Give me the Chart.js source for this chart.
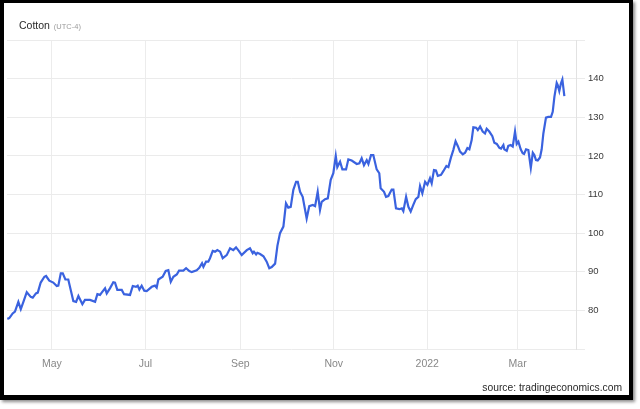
<!DOCTYPE html>
<html>
<head>
<meta charset="utf-8">
<script src="https://cdn.jsdelivr.net/npm/chart.js@4.4.1/dist/chart.umd.min.js"></script>
<style>
  html, body { margin: 0; padding: 0; background: #fff; }
  body { width: 640px; height: 409px; position: relative; overflow: hidden; font-family: "Liberation Sans", Arial, sans-serif; }
  #frame { position: absolute; left: 0; top: 0; width: 633px; height: 400px; box-sizing: border-box;
           border-style: solid; border-color: #000; border-width: 3px 4px 5px 4px; background: #fff;
           box-shadow: 2px 2px 3px rgba(0,0,0,0.45); }
  #chart { position: absolute; left: 0; top: 0; }
  #title { position: absolute; left: 19px; top: 19px; font-size: 10.5px; line-height: 12px; color: #2a2a2a; white-space: nowrap; }
  #title span { font-size: 7.5px; color: #9a9a9a; margin-left: 1px; }
  #source { position: absolute; right: 18px; top: 382px; font-size: 10.3px; line-height: 12px; color: #2a2a2a; white-space: nowrap; }
</style>
</head>
<body>
<div id="frame"></div>
<canvas id="chart" width="640" height="409"></canvas>
<div id="title">Cotton <span>(UTC-4)</span></div>
<div id="source">source: tradingeconomics.com</div>
<script>
// Days since 2021-04-01
const days = [0.9,2.2,4.4,5.9,8.1,9.7,11.4,13.6,16.2,17.5,19.6,20.8,22.7,25.1,26.2,28.3,30.9,33.2,34.2,35.8,
  37.1,38.8,40.7,42.3,44.0,45.8,47.3,49.9,51.6,54.9,58.2,59.7,61.4,62.5,64.7,65.8,67.9,70.1,71.2,72.7,
  75.6,77.1,81.0,82.8,84.9,86.0,87.1,88.6,90.3,91.9,95.2,97.3,98.4,99.5,102.3,104.3,106.0,107.6,109.3,111.5,
  113.0,115.8,117.6,119.7,121.3,124.5,126.2,128.0,128.9,130.6,132.1,133.2,135.0,136.5,138.0,139.8,141.5,144.1,146.3,148.4,
  150.2,152.0,153.9,157.2,159.3,161.1,161.9,163.3,164.1,165.9,168.1,170.2,171.9,173.5,175.7,177.2,178.9,181.1,182.8,184.3,
  185.9,187.6,189.4,190.5,192.0,193.7,196.3,198.0,200.3,201.8,203.5,205.0,206.1,208.3,210.1,212.0,213.7,215.3,216.3,218.1,
  219.6,222.0,223.5,225.7,229.0,230.7,232.2,233.7,235.5,236.6,238.3,239.8,242.0,243.7,244.6,246.8,248.1,249.6,251.8,252.9,
  254.6,256.8,258.4,259.4,261.2,262.7,264.2,265.9,267.5,269.2,270.3,271.8,273.6,275.1,276.8,277.9,279.4,280.7,281.9,284.0,
  285.6,287.5,288.8,290.5,292.0,293.5,295.0,296.4,298.2,299.7,301.2,302.5,304.0,305.1,306.9,308.0,309.5,311.2,312.7,313.8,
  315.5,317.5,318.8,320.4,322.1,323.2,324.7,325.3,326.9,327.9,329.5,330.8,332.3,333.4,334.5,336.0,337.3,338.2,339.5,341.0,
  342.6,343.9,344.9,346.0,347.1,348.6,349.7,350.8,352.5,354.0,355.8,356.9,358.0,359.5,360.2,361.2,362.3,363.2,364.5];
// Cotton price (USd/lb)
const prices = [77.8,78.0,79.2,79.7,82.2,80.3,82.2,84.7,83.5,83.3,84.4,84.6,87.2,88.7,88.9,87.7,87.2,86.3,86.4,89.6,
  89.6,88.0,88.0,85.3,82.4,82.2,83.7,81.6,82.7,82.7,82.2,84.2,84.0,84.6,85.7,84.4,85.7,87.3,87.2,85.3,
  85.3,84.2,84.0,86.3,86.1,86.4,85.4,86.4,85.1,85.0,86.1,86.4,85.9,88.0,88.7,90.2,90.4,87.4,88.7,89.3,
  90.3,90.3,90.9,90.2,89.9,90.4,91.0,92.2,91.3,92.6,92.6,93.5,95.4,95.2,95.6,95.2,93.5,94.3,96.1,95.6,
  96.3,95.4,94.3,95.6,96.1,94.8,95.2,94.5,94.9,94.6,94.0,92.6,90.9,91.2,92.1,96.7,100.0,101.7,107.7,106.6,
  106.8,111.2,113.3,113.3,110.7,109.4,103.8,107.0,107.3,107.0,110.7,106.0,108.1,108.8,109.0,113.8,115.5,120.0,117.1,118.5,
  116.5,116.5,119.1,118.8,117.9,118.1,119.4,117.6,118.9,117.9,120.2,120.2,116.5,115.5,111.6,110.7,109.4,109.6,111.3,111.3,
  106.4,106.2,106.4,105.7,109.4,106.8,105.6,107.3,108.8,109.4,112.2,110.3,113.3,112.5,114.2,112.9,116.3,116.2,114.8,115.1,
  116.1,117.4,117.1,119.6,121.5,123.8,122.5,121.1,120.4,120.8,122.0,121.7,124.1,127.4,127.3,126.7,127.6,126.3,125.8,127.0,
  126.3,125.1,123.4,123.1,122.1,121.9,122.8,121.7,121.3,122.6,122.8,122.4,126.3,123.1,123.7,121.7,120.7,120.5,121.7,121.5,
  116.9,120.8,120.2,118.9,118.8,119.6,121.7,125.8,129.9,130.1,130.1,131.4,135.3,138.9,138.3,136.8,138.8,139.8,135.5];
// Month ticks (days since 2021-04-01) and their labels
const tickDays = [30, 91, 153, 214, 275, 334];
const tickLabels = ['May', 'Jul', 'Sep', 'Nov', '2022', 'Mar'];
const yTicks = [70, 80, 90, 100, 110, 120, 130, 140, 150];

const points = days.map((d, i) => ({ x: d, y: prices[i] }));

new Chart(document.getElementById('chart'), {
  type: 'line',
  data: {
    datasets: [{
      data: points,
      borderColor: '#3a62df',
      borderWidth: 2.2,
      pointRadius: 0,
      tension: 0,
      fill: false
    }]
  },
  options: {
    responsive: false,
    animation: false,
    layout: { padding: { top: 40, left: 7, right: 0, bottom: 0 } },
    plugins: { legend: { display: false }, tooltip: { enabled: false } },
    scales: {
      x: {
        type: 'linear',
        min: 0.7,
        max: 372.1,
        afterBuildTicks: (axis) => { axis.ticks = tickDays.map(v => ({ value: v })); },
        afterFit: (scale) => { scale.height = 60; },
        ticks: {
          autoSkip: false,
          maxRotation: 0,
          padding: 9,
          color: '#888',
          font: { family: '"Liberation Sans", Arial, sans-serif', size: 10.5 },
          callback: (v) => { const i = tickDays.indexOf(v); return i >= 0 ? tickLabels[i] : ''; }
        },
        grid: { color: '#ececec', lineWidth: 1, drawTicks: false },
        border: { display: false }
      },
      y: {
        position: 'right',
        min: 70,
        max: 150,
        afterBuildTicks: (axis) => { axis.ticks = yTicks.map(v => ({ value: v })); },
        afterFit: (scale) => { scale.width = 64; },
        ticks: {
          padding: 3,
          color: '#3a3a3a',
          font: { family: '"Liberation Sans", Arial, sans-serif', size: 9.5 },
          callback: (v) => (v === 70 || v === 150) ? '' : String(v)
        },
        grid: { color: '#ebebeb', lineWidth: 1, drawTicks: true, tickLength: 9, tickColor: '#ebebeb' },
        border: { display: true, color: '#e2e2e2' }
      }
    }
  }
});
</script>
</body>
</html>
